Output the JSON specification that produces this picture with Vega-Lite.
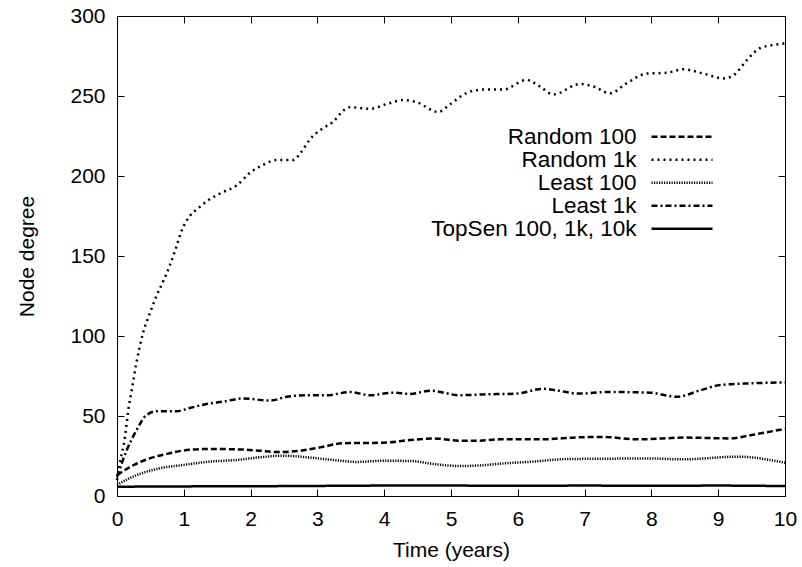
{
  "$schema": "https://vega.github.io/schema/vega-lite/v6.json",
  "width": 668,
  "height": 480,
  "autosize": "none",
  "padding": {"left": 117, "top": 16, "right": 17, "bottom": 71},
  "background": "white",
  "config": {
    "view": {"stroke": "black", "strokeWidth": 1},
    "font": "Liberation Sans",
    "axis": {"grid": false, "domain": false, "tickColor": "black", "labelColor": "black", "titleColor": "black", "labelFontSize": 21, "titleFontSize": 21, "titleFontWeight": "normal", "labelFont": "Liberation Sans", "titleFont": "Liberation Sans", "labelFlush": false, "labelOverlap": false}
  },
  "data": {"values": [
    {"s": "Random 1k", "t": 0, "v": 10}, {"s": "Random 1k", "t": 0.04, "v": 20}, {"s": "Random 1k", "t": 0.12, "v": 37}, {"s": "Random 1k", "t": 0.17, "v": 54}, {"s": "Random 1k", "t": 0.22, "v": 66}, {"s": "Random 1k", "t": 0.29, "v": 83}, {"s": "Random 1k", "t": 0.39, "v": 102}, {"s": "Random 1k", "t": 0.49, "v": 114}, {"s": "Random 1k", "t": 0.59, "v": 125}, {"s": "Random 1k", "t": 0.69, "v": 134}, {"s": "Random 1k", "t": 0.79, "v": 144}, {"s": "Random 1k", "t": 0.89, "v": 156}, {"s": "Random 1k", "t": 0.97, "v": 166}, {"s": "Random 1k", "t": 1.09, "v": 175}, {"s": "Random 1k", "t": 1.22, "v": 180}, {"s": "Random 1k", "t": 1.37, "v": 185}, {"s": "Random 1k", "t": 1.59, "v": 190}, {"s": "Random 1k", "t": 1.79, "v": 194}, {"s": "Random 1k", "t": 1.99, "v": 202}, {"s": "Random 1k", "t": 2.19, "v": 207}, {"s": "Random 1k", "t": 2.39, "v": 210}, {"s": "Random 1k", "t": 2.64, "v": 210}, {"s": "Random 1k", "t": 2.74, "v": 214}, {"s": "Random 1k", "t": 2.89, "v": 223}, {"s": "Random 1k", "t": 3.09, "v": 230}, {"s": "Random 1k", "t": 3.24, "v": 234}, {"s": "Random 1k", "t": 3.39, "v": 241}, {"s": "Random 1k", "t": 3.49, "v": 243}, {"s": "Random 1k", "t": 3.79, "v": 242}, {"s": "Random 1k", "t": 4.04, "v": 245}, {"s": "Random 1k", "t": 4.29, "v": 247.5}, {"s": "Random 1k", "t": 4.49, "v": 246}, {"s": "Random 1k", "t": 4.81, "v": 240}, {"s": "Random 1k", "t": 4.99, "v": 245}, {"s": "Random 1k", "t": 5.24, "v": 252}, {"s": "Random 1k", "t": 5.48, "v": 254}, {"s": "Random 1k", "t": 5.78, "v": 254}, {"s": "Random 1k", "t": 6.13, "v": 260}, {"s": "Random 1k", "t": 6.33, "v": 256}, {"s": "Random 1k", "t": 6.53, "v": 251}, {"s": "Random 1k", "t": 6.93, "v": 257.5}, {"s": "Random 1k", "t": 7.13, "v": 256}, {"s": "Random 1k", "t": 7.38, "v": 251.7}, {"s": "Random 1k", "t": 7.63, "v": 258}, {"s": "Random 1k", "t": 7.93, "v": 264}, {"s": "Random 1k", "t": 8.23, "v": 264.5}, {"s": "Random 1k", "t": 8.48, "v": 266.7}, {"s": "Random 1k", "t": 8.78, "v": 264}, {"s": "Random 1k", "t": 9.08, "v": 261}, {"s": "Random 1k", "t": 9.23, "v": 263}, {"s": "Random 1k", "t": 9.43, "v": 272.5}, {"s": "Random 1k", "t": 9.63, "v": 280}, {"s": "Random 1k", "t": 9.93, "v": 282.5}, {"s": "Random 1k", "t": 10, "v": 283},
    {"s": "Least 1k", "t": 0, "v": 12}, {"s": "Least 1k", "t": 0.15, "v": 29}, {"s": "Least 1k", "t": 0.29, "v": 41}, {"s": "Least 1k", "t": 0.44, "v": 50.5}, {"s": "Least 1k", "t": 0.6, "v": 53}, {"s": "Least 1k", "t": 0.89, "v": 53}, {"s": "Least 1k", "t": 1.09, "v": 55}, {"s": "Least 1k", "t": 1.34, "v": 57.5}, {"s": "Least 1k", "t": 1.59, "v": 59}, {"s": "Least 1k", "t": 1.89, "v": 61}, {"s": "Least 1k", "t": 2.29, "v": 59.6}, {"s": "Least 1k", "t": 2.54, "v": 62}, {"s": "Least 1k", "t": 2.84, "v": 63}, {"s": "Least 1k", "t": 3.14, "v": 63}, {"s": "Least 1k", "t": 3.49, "v": 65}, {"s": "Least 1k", "t": 3.79, "v": 63}, {"s": "Least 1k", "t": 4.14, "v": 64.6}, {"s": "Least 1k", "t": 4.39, "v": 63.8}, {"s": "Least 1k", "t": 4.69, "v": 65.8}, {"s": "Least 1k", "t": 5.13, "v": 63}, {"s": "Least 1k", "t": 5.48, "v": 63.5}, {"s": "Least 1k", "t": 5.98, "v": 64}, {"s": "Least 1k", "t": 6.38, "v": 67}, {"s": "Least 1k", "t": 6.58, "v": 66}, {"s": "Least 1k", "t": 6.93, "v": 64}, {"s": "Least 1k", "t": 7.33, "v": 65}, {"s": "Least 1k", "t": 7.98, "v": 64.6}, {"s": "Least 1k", "t": 8.38, "v": 62}, {"s": "Least 1k", "t": 8.73, "v": 66}, {"s": "Least 1k", "t": 9.03, "v": 69.4}, {"s": "Least 1k", "t": 9.48, "v": 70.4}, {"s": "Least 1k", "t": 10, "v": 71},
    {"s": "Random 100", "t": 0, "v": 13}, {"s": "Random 100", "t": 0.19, "v": 18}, {"s": "Random 100", "t": 0.49, "v": 23.5}, {"s": "Random 100", "t": 0.79, "v": 26.7}, {"s": "Random 100", "t": 1.04, "v": 28.7}, {"s": "Random 100", "t": 1.39, "v": 29.4}, {"s": "Random 100", "t": 1.89, "v": 29}, {"s": "Random 100", "t": 2.14, "v": 28.3}, {"s": "Random 100", "t": 2.39, "v": 27.5}, {"s": "Random 100", "t": 2.74, "v": 28.3}, {"s": "Random 100", "t": 3.04, "v": 30.4}, {"s": "Random 100", "t": 3.39, "v": 33}, {"s": "Random 100", "t": 3.99, "v": 33.3}, {"s": "Random 100", "t": 4.39, "v": 35}, {"s": "Random 100", "t": 4.74, "v": 36}, {"s": "Random 100", "t": 5.13, "v": 34.6}, {"s": "Random 100", "t": 5.43, "v": 34.6}, {"s": "Random 100", "t": 5.73, "v": 35.4}, {"s": "Random 100", "t": 6.33, "v": 35.4}, {"s": "Random 100", "t": 6.93, "v": 36.7}, {"s": "Random 100", "t": 7.28, "v": 36.9}, {"s": "Random 100", "t": 7.78, "v": 35.4}, {"s": "Random 100", "t": 8.53, "v": 36.5}, {"s": "Random 100", "t": 9.18, "v": 36}, {"s": "Random 100", "t": 9.48, "v": 38}, {"s": "Random 100", "t": 10, "v": 42},
    {"s": "Least 100", "t": 0, "v": 7}, {"s": "Least 100", "t": 0.29, "v": 13}, {"s": "Least 100", "t": 0.64, "v": 17.3}, {"s": "Least 100", "t": 0.99, "v": 19.4}, {"s": "Least 100", "t": 1.39, "v": 21.5}, {"s": "Least 100", "t": 1.79, "v": 22.5}, {"s": "Least 100", "t": 2.14, "v": 24.2}, {"s": "Least 100", "t": 2.49, "v": 25.2}, {"s": "Least 100", "t": 2.84, "v": 24.2}, {"s": "Least 100", "t": 3.24, "v": 22.5}, {"s": "Least 100", "t": 3.59, "v": 21.3}, {"s": "Least 100", "t": 3.99, "v": 22}, {"s": "Least 100", "t": 4.39, "v": 21.9}, {"s": "Least 100", "t": 4.74, "v": 20}, {"s": "Least 100", "t": 5.13, "v": 18.75}, {"s": "Least 100", "t": 5.53, "v": 19.4}, {"s": "Least 100", "t": 5.73, "v": 20.2}, {"s": "Least 100", "t": 6.23, "v": 21.5}, {"s": "Least 100", "t": 6.73, "v": 23.1}, {"s": "Least 100", "t": 7.33, "v": 23.3}, {"s": "Least 100", "t": 7.93, "v": 23.5}, {"s": "Least 100", "t": 8.48, "v": 22.9}, {"s": "Least 100", "t": 9.28, "v": 24.6}, {"s": "Least 100", "t": 10, "v": 20.8},
    {"s": "TopSen 100, 1k, 10k", "t": 0, "v": 5.8}, {"s": "TopSen 100, 1k, 10k", "t": 1, "v": 6}, {"s": "TopSen 100, 1k, 10k", "t": 2, "v": 6.1}, {"s": "TopSen 100, 1k, 10k", "t": 3, "v": 6.3}, {"s": "TopSen 100, 1k, 10k", "t": 4, "v": 6.5}, {"s": "TopSen 100, 1k, 10k", "t": 5, "v": 6.5}, {"s": "TopSen 100, 1k, 10k", "t": 6, "v": 6.4}, {"s": "TopSen 100, 1k, 10k", "t": 7, "v": 6.5}, {"s": "TopSen 100, 1k, 10k", "t": 8, "v": 6.4}, {"s": "TopSen 100, 1k, 10k", "t": 9, "v": 6.5}, {"s": "TopSen 100, 1k, 10k", "t": 10, "v": 6.2}
  ]},
  "layer": [
    {
      "mark": {"type": "line", "interpolate": "monotone", "color": "black", "strokeCap": "butt"},
      "encoding": {
        "x": {"field": "t", "type": "quantitative", "scale": {"domain": [0, 10], "nice": false},
          "axis": {"values": [0,1,2,3,4,5,6,7,8,9,10], "tickSize": -7, "labelPadding": 19, "title": "Time (years)", "titleX": 334, "titleY": 54, "titleBaseline": "middle"}},
        "y": {"field": "v", "type": "quantitative", "scale": {"domain": [0, 300], "nice": false},
          "axis": {"values": [0,50,100,150,200,250,300], "tickSize": -7, "labelPadding": 19, "title": "Node degree", "titleX": -90, "titleY": 240, "titleBaseline": "middle", "titleAngle": -90}},
        "strokeDash": {"field": "s", "type": "nominal",
          "scale": {"domain": ["Random 100", "Random 1k", "Least 100", "Least 1k", "TopSen 100, 1k, 10k"], "range": [[6,3],[2,4],[1.2,1.3],[6,3,2,3],[1,0]]},
          "legend": {"title": null, "orient": "none", "legendX": 553.5, "legendY": 109.2, "symbolType": "M-3.05,0L3.05,0", "symbolSize": 400, "symbolStrokeColor": "black", "labelAlign": "right", "labelOffset": -57, "labelFontSize": 22.5, "labelFont": "Liberation Sans", "labelColor": "black", "padding": 0, "rowPadding": 0, "labelLimit": 300}},
        "strokeWidth": {"field": "s", "type": "nominal",
          "scale": {"domain": ["Random 100", "Random 1k", "Least 100", "Least 1k", "TopSen 100, 1k, 10k"], "range": [2.5, 2.5, 2, 2.5, 3]},
          "legend": {"title": null, "orient": "none", "legendX": 553.5, "legendY": 109.2, "symbolType": "M-3.05,0L3.05,0", "symbolSize": 400, "symbolStrokeColor": "black", "labelAlign": "right", "labelOffset": -57, "labelFontSize": 22.5, "labelFont": "Liberation Sans", "labelColor": "black", "padding": 0, "rowPadding": 0, "labelLimit": 300}}
      }
    },
    {
      "mark": {"type": "line", "opacity": 0},
      "encoding": {
        "x": {"field": "t", "type": "quantitative", "axis": {"orient": "top", "values": [0,1,2,3,4,5,6,7,8,9,10], "tickSize": -7, "labels": false, "title": null}},
        "y": {"field": "v", "type": "quantitative", "axis": {"orient": "right", "values": [0,50,100,150,200,250,300], "tickSize": -7, "labels": false, "title": null}},
        "detail": {"field": "s"}
      }
    }
  ],
  "resolve": {"axis": {"x": "independent", "y": "independent"}}
}
